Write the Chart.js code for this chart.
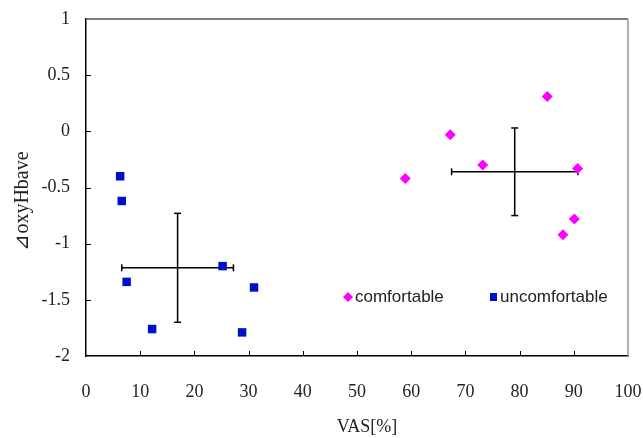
<!DOCTYPE html>
<html>
<head>
<meta charset="utf-8">
<script src="https://cdn.jsdelivr.net/npm/chart.js@4"></script>
<style>
  html, body { margin: 0; padding: 0; background: #fff; }
  #wrap { width: 643px; height: 438px; }
</style>
</head>
<body>
<div id="wrap"><canvas id="chart" width="643" height="438"></canvas></div>
<script>
// VAS[%] and oxyHb values
const comfortableVas = [58.9, 67.2, 73.2, 85.1, 90.7, 90.1, 88.0];
const comfortableOxy = [-0.42, -0.03, -0.30, 0.31, -0.33, -0.78, -0.92];
const uncomfortableVas = [6.3, 6.6, 7.5, 12.2, 25.2, 31.0, 28.8];
const uncomfortableOxy = [-0.40, -0.62, -1.34, -1.76, -1.20, -1.39, -1.79];

// group mean and standard deviation: [x, y]
const comfortableMean = [79.1, -0.36];
const comfortableSd = [11.65, 0.39];
const uncomfortableMean = [16.9, -1.215];
const uncomfortableSd = [10.3, 0.485];

const xTicks = [0, 10, 20, 30, 40, 50, 60, 70, 80, 90, 100];
const yTicks = [1, 0.5, 0, -0.5, -1, -1.5, -2];

const MAGENTA = "#ff00ff";
const BLUE = "#0010c8";
const SERIF = '"Liberation Serif", "Times New Roman", serif';

function toPoints(xs, ys) {
  return xs.map((x, i) => ({ x, y: ys[i] }));
}

function errorBars(mean, sd) {
  const common = {
    type: "scatter",
    showLine: true,
    borderColor: "#000",
    borderWidth: 1.5,
    pointStyle: "line",
    pointRadius: 3.5,
    pointBorderColor: "#000",
    pointBorderWidth: 1.5,
    pointHoverRadius: 3.5,
  };
  return [
    {
      ...common,
      data: [{ x: mean[0] - sd[0], y: mean[1] }, { x: mean[0] + sd[0], y: mean[1] }],
      rotation: 90,
    },
    {
      ...common,
      data: [{ x: mean[0], y: mean[1] + sd[1] }, { x: mean[0], y: mean[1] - sd[1] }],
      rotation: 0,
    },
  ];
}

// frame (top/right), inward tick marks, titles and legend
const framePlugin = {
  id: "frame",
  afterDraw(chart) {
    const { ctx, chartArea: a, scales } = chart;
    ctx.save();
    ctx.lineWidth = 1.5;
    ctx.strokeStyle = "#555";
    ctx.beginPath();
    ctx.moveTo(a.left, a.top);
    ctx.lineTo(a.right, a.top);
    ctx.stroke();
    ctx.strokeStyle = "#999";
    ctx.beginPath();
    ctx.moveTo(a.right, a.top);
    ctx.lineTo(a.right, a.bottom);
    ctx.stroke();

    ctx.strokeStyle = "#000";
    ctx.lineWidth = 1;
    ctx.beginPath();
    for (const v of xTicks.slice(1, -1)) {
      const px = Math.round(scales.x.getPixelForValue(v)) + 0.5;
      ctx.moveTo(px, a.bottom);
      ctx.lineTo(px, a.bottom - 5);
    }
    for (const v of yTicks.slice(1, -1)) {
      const py = Math.round(scales.y.getPixelForValue(v)) + 0.5;
      ctx.moveTo(a.left, py);
      ctx.lineTo(a.left + 5, py);
    }
    ctx.stroke();

    // axis titles
    ctx.fillStyle = "#222";
    ctx.textAlign = "center";
    ctx.textBaseline = "middle";
    ctx.font = "18px " + SERIF;
    ctx.fillText("VAS[%]", 367, 427);
    ctx.save();
    ctx.translate(23, 201);
    ctx.rotate(-Math.PI / 2);
    ctx.font = "20px " + SERIF;
    ctx.fillText("⊿oxyHbave", 0, 0);
    ctx.restore();

    // legend inside plot
    ctx.textAlign = "left";
    ctx.font = '17px "Liberation Sans Narrow", "Liberation Sans", sans-serif';
    const ly = 297;
    ctx.fillStyle = MAGENTA;
    ctx.beginPath();
    ctx.moveTo(348, ly - 5);
    ctx.lineTo(353, ly);
    ctx.lineTo(348, ly + 5);
    ctx.lineTo(343, ly);
    ctx.closePath();
    ctx.fill();
    ctx.fillStyle = "#222";
    ctx.fillText("comfortable", 355, ly);
    ctx.fillStyle = BLUE;
    ctx.fillRect(490, ly - 4, 7, 8);
    ctx.fillStyle = "#222";
    ctx.fillText("uncomfortable", 500, ly);
    ctx.restore();
  },
};

const tickFont = { family: SERIF, size: 18 };

new Chart(document.getElementById("chart").getContext("2d"), {
  type: "scatter",
  data: {
    datasets: [
      {
        label: "comfortable",
        data: toPoints(comfortableVas, comfortableOxy),
        pointStyle: "rectRot",
        pointRadius: 5.5,
        pointHoverRadius: 5.5,
        backgroundColor: MAGENTA,
        borderColor: MAGENTA,
        borderWidth: 0,
      },
      {
        label: "uncomfortable",
        data: toPoints(uncomfortableVas, uncomfortableOxy),
        pointStyle: "rect",
        pointRadius: 6,
        pointHoverRadius: 6,
        backgroundColor: BLUE,
        borderColor: BLUE,
        borderWidth: 0,
      },
      ...errorBars(comfortableMean, comfortableSd),
      ...errorBars(uncomfortableMean, uncomfortableSd),
    ],
  },
  options: {
    responsive: false,
    animation: false,
    devicePixelRatio: 1,
    layout: { padding: { top: 19, right: 15, left: 0, bottom: 0 } },
    plugins: { legend: { display: false }, tooltip: { enabled: false } },
    scales: {
      x: {
        type: "linear",
        min: 0,
        max: 100,
        afterFit: (s) => {
          s.height = 82;
          s.paddingLeft = s.paddingRight = 0;
        },
        afterBuildTicks: (s) => { s.ticks = xTicks.map((v) => ({ value: v })); },
        grid: { display: false },
        border: { display: true, color: "#000", width: 1.5 },
        ticks: { color: "#222", font: tickFont, padding: 17, maxRotation: 0 },
      },
      y: {
        type: "linear",
        min: -2,
        max: 1,
        afterFit: (s) => {
          s.width = 86;
          s.paddingTop = s.paddingBottom = 0;
        },
        afterBuildTicks: (s) => { s.ticks = yTicks.map((v) => ({ value: v })); },
        grid: { display: false },
        border: { display: true, color: "#000", width: 1.5 },
        ticks: { color: "#222", font: tickFont, padding: 8, callback: (v) => String(v) },
      },
    },
  },
  plugins: [framePlugin],
});
</script>
</body>
</html>
